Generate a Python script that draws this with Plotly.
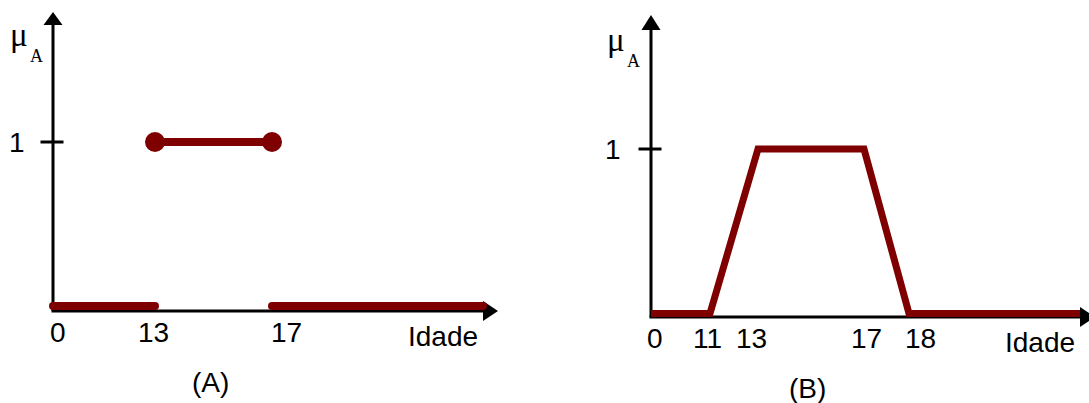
import numpy as np
import plotly.graph_objects as go

W, H = 1089, 403

# ---------------- data ----------------
AGE_TICKS_A = [0, 13, 17]
AGE_TICKS_B = [0, 11, 13, 17, 18]
AGE_END = 25  # unlabelled right end of the age axis

# (A) crisp set: mu = 1 for 13 <= idade <= 17
A_LOW_LEFT_AGE = [0, 13]
A_LOW_LEFT_MU = [0, 0]
A_CORE_AGE = [13, 17]
A_CORE_MU = [1, 1]
A_LOW_RIGHT_AGE = [17, AGE_END]
A_LOW_RIGHT_MU = [0, 0]

# (B) fuzzy set (trapezoid)
B_AGE = [0, 11, 13, 17, 18, AGE_END]
B_MU = [0, 0, 1, 1, 0, 0]

Y_TICK = 1
X_LABEL = "Idade"
Y_LABEL_MAIN = "μ"
Y_LABEL_SUB = "A"
PANEL_LABELS = ["(A)", "(B)"]

# ---------------- layout / scales ----------------
# The sketch is not drawn to scale: each panel's age axis is a piecewise-linear
# scale given by knots (age -> horizontal position in the canvas).
A_SCALE_AGE = [0, 13, 17, AGE_END]
A_SCALE_POS = [53, 155, 272, 483]
B_SCALE_AGE = [0, 11, 13, 17, 18, AGE_END]
B_SCALE_POS = [651, 710, 758, 864, 909, 1080]
# small horizontal nudges (px) of tick labels, as placed in the sketch
A_LABEL_NUDGE = {0: 5, 13: -2, 17: 14}
B_LABEL_NUDGE = {0: 4, 11: -3, 13: -7, 17: 2, 18: 11}

# vertical scale: pixel of mu=0 and pixels per unit of mu
A_Y0, A_S = 306.0, 164.0
B_Y0, B_S = 313.5, 164.5

RED = "#7f0000"
BLACK = "#000000"
FONT = "Liberation Sans"
SERIF = "Liberation Serif"


def xa(age):
    return np.interp(age, A_SCALE_AGE, A_SCALE_POS)


def xb(age):
    return np.interp(age, B_SCALE_AGE, B_SCALE_POS)


def mu_of_px(py, y0, s):
    return (y0 - py) / s


fig = go.Figure()

# panel A traces
fig.add_trace(go.Scatter(x=xa(A_LOW_LEFT_AGE), y=A_LOW_LEFT_MU, mode="lines+markers",
                         line=dict(color=RED, width=8), marker=dict(size=8, color=RED),
                         yaxis="y", hoverinfo="skip"))
fig.add_trace(go.Scatter(x=xa(A_CORE_AGE), y=A_CORE_MU, mode="lines+markers",
                         line=dict(color=RED, width=8), marker=dict(size=20, color=RED),
                         yaxis="y", hoverinfo="skip"))
fig.add_trace(go.Scatter(x=xa(A_LOW_RIGHT_AGE), y=A_LOW_RIGHT_MU, mode="lines+markers",
                         line=dict(color=RED, width=8), marker=dict(size=8, color=RED),
                         yaxis="y", hoverinfo="skip"))
# panel B trace
fig.add_trace(go.Scatter(x=xb(B_AGE), y=B_MU, mode="lines",
                         line=dict(color=RED, width=7),
                         yaxis="y2", hoverinfo="skip"))

shapes = []
annotations = []


def panel(xfun, ages_ticks, nudge, yref, y0, s, axis_py, top_tip_py, top_base_py,
          right_tip, right_base, tick_half, one_x, mu_x, mu_py, sub_x, sub_py,
          tick_shift, idade_shift, panel_label, panel_x, panel_py):
    ox = float(xfun(0))
    ax_mu = mu_of_px(axis_py, y0, s)
    top_tip = mu_of_px(top_tip_py, y0, s)
    top_base = mu_of_px(top_base_py, y0, s)
    half_h = 10 / s
    line = dict(color=BLACK, width=3)
    # y axis
    shapes.append(dict(type="line", xref="x", yref=yref, x0=ox, x1=ox,
                       y0=ax_mu, y1=top_base, line=line, layer="below"))
    shapes.append(dict(type="path", xref="x", yref=yref,
                       path=f"M {ox-9.5},{top_base} L {ox+9.5},{top_base} L {ox},{top_tip} Z",
                       fillcolor=BLACK, line=dict(width=0), layer="below"))
    # x axis
    shapes.append(dict(type="line", xref="x", yref=yref, x0=ox - 1.5, x1=right_base,
                       y0=ax_mu, y1=ax_mu, line=line, layer="below"))
    shapes.append(dict(type="path", xref="x", yref=yref,
                       path=f"M {right_base},{ax_mu-half_h} L {right_base},{ax_mu+half_h} L {right_tip},{ax_mu} Z",
                       fillcolor=BLACK, line=dict(width=0), layer="below"))
    # tick at mu = 1
    shapes.append(dict(type="line", xref="x", yref=yref, x0=ox - tick_half - 1, x1=ox + tick_half - 1,
                       y0=Y_TICK, y1=Y_TICK, line=line, layer="below"))
    annotations.append(dict(x=one_x, y=Y_TICK, xref="x", yref=yref, text=str(Y_TICK),
                            showarrow=False, font=dict(family=FONT, size=28, color=BLACK),
                            xanchor="center", yanchor="middle"))
    # mu_A label
    annotations.append(dict(x=mu_x, y=mu_of_px(mu_py, y0, s), xref="x", yref=yref,
                            text=Y_LABEL_MAIN, showarrow=False,
                            font=dict(family=SERIF, size=33, color=BLACK),
                            xanchor="center", yanchor="middle"))
    annotations.append(dict(x=sub_x, y=mu_of_px(sub_py, y0, s), xref="x", yref=yref,
                            text=Y_LABEL_SUB, showarrow=False,
                            font=dict(family=SERIF, size=18, color=BLACK),
                            xanchor="center", yanchor="middle"))
    # age tick labels
    for a in ages_ticks:
        annotations.append(dict(x=float(xfun(a)) + nudge.get(a, 0), y=0, xref="x", yref=yref,
                                text=str(a), showarrow=False, yshift=tick_shift,
                                font=dict(family=FONT, size=28, color=BLACK),
                                xanchor="center", yanchor="middle"))
    annotations.append(dict(x=right_base - 3, y=0, xref="x", yref=yref, text=X_LABEL,
                            showarrow=False, yshift=idade_shift,
                            font=dict(family=FONT, size=28, color=BLACK),
                            xanchor="right", yanchor="middle"))
    annotations.append(dict(x=panel_x, y=mu_of_px(panel_py, y0, s), xref="x", yref=yref,
                            text=panel_label, showarrow=False,
                            font=dict(family=FONT, size=28, color=BLACK),
                            xanchor="center", yanchor="middle"))


panel(xa, AGE_TICKS_A, A_LABEL_NUDGE, "y", A_Y0, A_S, axis_py=311, top_tip_py=12, top_base_py=25,
      right_tip=498, right_base=483, tick_half=11.5, one_x=17, mu_x=19, mu_py=35,
      sub_x=36, sub_py=56, tick_shift=-26.5, idade_shift=-30,
      panel_label=PANEL_LABELS[0], panel_x=210, panel_py=382)
panel(xb, AGE_TICKS_B, B_LABEL_NUDGE, "y2", B_Y0, B_S, axis_py=317, top_tip_py=15, top_base_py=30,
      right_tip=1095, right_base=1080, tick_half=11.5, one_x=613, mu_x=616, mu_py=40,
      sub_x=633, sub_py=61, tick_shift=-25, idade_shift=-28.5,
      panel_label=PANEL_LABELS[1], panel_x=807, panel_py=388)

fig.update_layout(
    width=W, height=H,
    margin=dict(l=0, r=0, t=0, b=0),
    paper_bgcolor="white", plot_bgcolor="white",
    showlegend=False,
    xaxis=dict(range=[0, W], visible=False, fixedrange=True),
    yaxis=dict(range=[mu_of_px(H, A_Y0, A_S), mu_of_px(0, A_Y0, A_S)], visible=False, fixedrange=True),
    yaxis2=dict(range=[mu_of_px(H, B_Y0, B_S), mu_of_px(0, B_Y0, B_S)], visible=False,
                overlaying="y", fixedrange=True),
    shapes=shapes,
    annotations=annotations,
)

fig.write_html("out.html", config={"displayModeBar": False},
               post_script="document.body.style.margin='0px';")
